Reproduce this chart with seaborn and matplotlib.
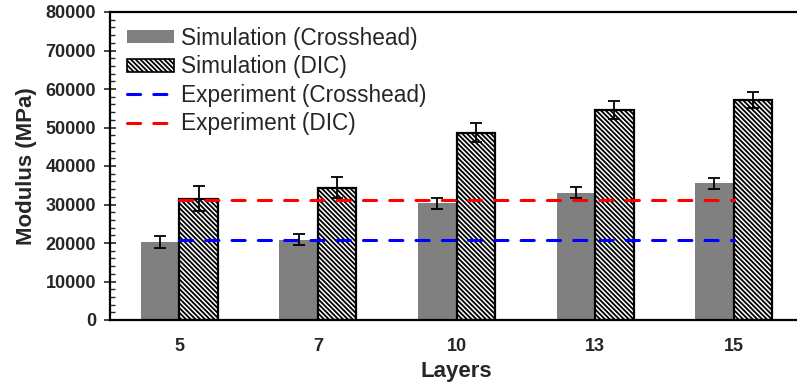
import numpy as np
import pandas as pd
import matplotlib
matplotlib.use("Agg")
import matplotlib.pyplot as plt
from matplotlib.patches import Patch
from matplotlib.lines import Line2D
from matplotlib.ticker import MultipleLocator
import seaborn as sns

# Modulus per number of layers
layers = ["5", "7", "10", "13", "15"]
sim_crosshead = [20200, 20900, 30300, 33100, 35500]
sim_crosshead_err = [1600, 1400, 1400, 1400, 1400]
sim_dic = [31500, 34400, 48700, 54500, 57100]
sim_dic_err = [3250, 2700, 2500, 2300, 2000]
exp_crosshead = 20800
exp_dic = 31200

series_names = ["Simulation (Crosshead)", "Simulation (DIC)"]
exp_names = ["Experiment (Crosshead)", "Experiment (DIC)"]

df = pd.DataFrame({
    "Layers": layers * 2,
    "Modulus": sim_crosshead + sim_dic,
    "Series": [series_names[0]] * len(layers) + [series_names[1]] * len(layers),
})

sns.set_style("white")
plt.rcParams["font.family"] = ["Liberation Sans", "DejaVu Sans"]
plt.rcParams["hatch.linewidth"] = 1.3
plt.rcParams["hatch.color"] = "black"

HATCH = "\\" * 7

fig = plt.figure(figsize=(7.97, 3.89), dpi=100)
ax = fig.add_axes([110 / 797, 69 / 389, 693 / 797, 308 / 389])

sns.barplot(data=df, x="Layers", y="Modulus", hue="Series", order=layers,
            hue_order=series_names, palette=["#808080", "white"],
            width=0.556, errorbar=None, ax=ax, legend=False, saturation=1)

n = len(layers)
bars_c = ax.patches[:n]
bars_d = ax.patches[n:2 * n]
for p in bars_c:
    p.set_edgecolor("none")
for p in bars_d:
    p.set_edgecolor("black")
    p.set_linewidth(1.6)
    p.set_hatch(HATCH)

# error bars at the bar centres
for bars, vals, errs in [(bars_c, sim_crosshead, sim_crosshead_err),
                         (bars_d, sim_dic, sim_dic_err)]:
    xs = [p.get_x() + p.get_width() / 2 for p in bars]
    ax.errorbar(xs, vals, yerr=errs, fmt="none", ecolor="black",
                elinewidth=1.3, capsize=4, capthick=1.3, zorder=5)

# experimental reference levels across the layer range
xpos = np.arange(n)
dash = (0, (4.3, 4.3))
ax.plot(xpos, [exp_crosshead] * n, color="#0000ff", lw=2.2, ls=dash,
        solid_capstyle="round", dash_capstyle="round", zorder=4)
ax.plot(xpos, [exp_dic] * n, color="#ff0000", lw=2.2, ls=dash,
        solid_capstyle="round", dash_capstyle="round", zorder=4)

ax.set_xlim(-0.5, n - 0.5)
ax.set_ylim(0, 80000)
ax.yaxis.set_major_locator(MultipleLocator(10000))
ax.yaxis.set_minor_locator(MultipleLocator(2000))
ax.tick_params(axis="y", which="major", direction="inout", length=8,
               width=1.2, labelsize=13, pad=6, left=True)
ax.tick_params(axis="y", which="minor", direction="in", length=3.6,
               width=1.0, left=True)
ax.tick_params(axis="x", length=0, labelsize=13, pad=13)
for lab in ax.get_xticklabels() + ax.get_yticklabels():
    lab.set_fontweight("bold")

for s in ax.spines.values():
    s.set_color("black")
    s.set_linewidth(1.6)

ax.set_xlabel("Layers", fontsize=16, fontweight="bold", labelpad=4)
ax.set_ylabel("Modulus (MPa)", fontsize=16, fontweight="bold", labelpad=6)

handles = [
    Patch(facecolor="#808080", edgecolor="none"),
    Patch(facecolor="white", edgecolor="black", hatch=HATCH, linewidth=1.2),
    Line2D([0], [0], color="#0000ff", lw=2.2, ls=dash, dash_capstyle="round"),
    Line2D([0], [0], color="#ff0000", lw=2.2, ls=dash, dash_capstyle="round"),
]
ax.legend(handles, series_names + exp_names, loc="upper left",
          bbox_to_anchor=(0.024, 0.952), frameon=False, fontsize=16.3,
          handlelength=2.1, handleheight=0.5, handletextpad=0.3,
          labelspacing=0.24, borderaxespad=0, borderpad=0)

fig.savefig("out.png", dpi=100)
